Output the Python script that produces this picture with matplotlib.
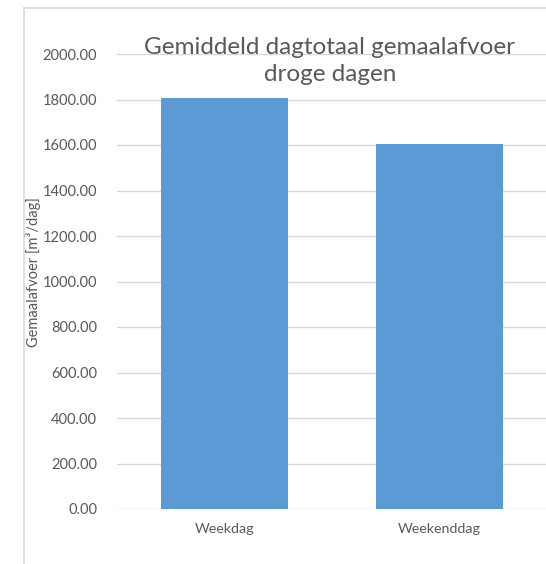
import matplotlib
matplotlib.use("Agg")
import matplotlib.pyplot as plt
from matplotlib.lines import Line2D

categories = ["Weekdag", "Weekenddag"]
values = [1808.0, 1604.0]
y_ticks = [0, 200, 400, 600, 800, 1000, 1200, 1400, 1600, 1800, 2000]

W, H = 546, 564
fig = plt.figure(figsize=(W / 100, H / 100), dpi=100)
fig.patch.set_facecolor("white")
plt.rcParams["font.family"] = ["Lato", "DejaVu Sans"]

text_col = "#595959"
grid_col = "#d9d9d9"

# plot area in pixel coordinates
left, right = 116.5, 547.0
top, bottom = 54.0, 509.0
ax = fig.add_axes([left / W, 1 - bottom / H, (right - left) / W, (bottom - top) / H])
ax.set_facecolor("none")

x = range(len(categories))
ax.bar(x, values, width=0.59, color="#5b9bd5", zorder=3)
ax.set_xlim(-0.5, len(categories) - 0.5)
ax.set_ylim(0, 2000)
ax.set_yticks(y_ticks)
ax.set_yticklabels([f"{v:.2f}" for v in y_ticks], color=text_col, fontsize=10.5)
ax.set_xticks(list(x))
ax.set_xticklabels(categories, color=text_col, fontsize=10.3)
ax.tick_params(length=0)
ax.tick_params(axis="y", pad=14)
ax.tick_params(axis="x", pad=10)
ax.yaxis.grid(True, color=grid_col, linewidth=1, zorder=0)
for s in ax.spines.values():
    s.set_visible(False)

ax.set_ylabel("Gemaalafvoer [m³/dag]", color=text_col, fontsize=10.5)
ax.yaxis.set_label_coords((41 - left) / (right - left), (bottom - 272) / (bottom - top))

fig.text(330 / W, 1 - 61 / H, "Gemiddeld dagtotaal gemaalafvoer\ndroge dagen",
         ha="center", va="center", color=text_col, fontsize=17.5, linespacing=1.38)

# outer chart frame (left and top edges)
fig.add_artist(Line2D([23.5 / W, 23.5 / W], [0, 1 - 7.5 / H], transform=fig.transFigure,
                      color=grid_col, linewidth=1.2))
fig.add_artist(Line2D([23.5 / W, 1], [1 - 7.5 / H, 1 - 7.5 / H], transform=fig.transFigure,
                      color=grid_col, linewidth=1.2))

fig.savefig("out.png", dpi=100, facecolor="white")
